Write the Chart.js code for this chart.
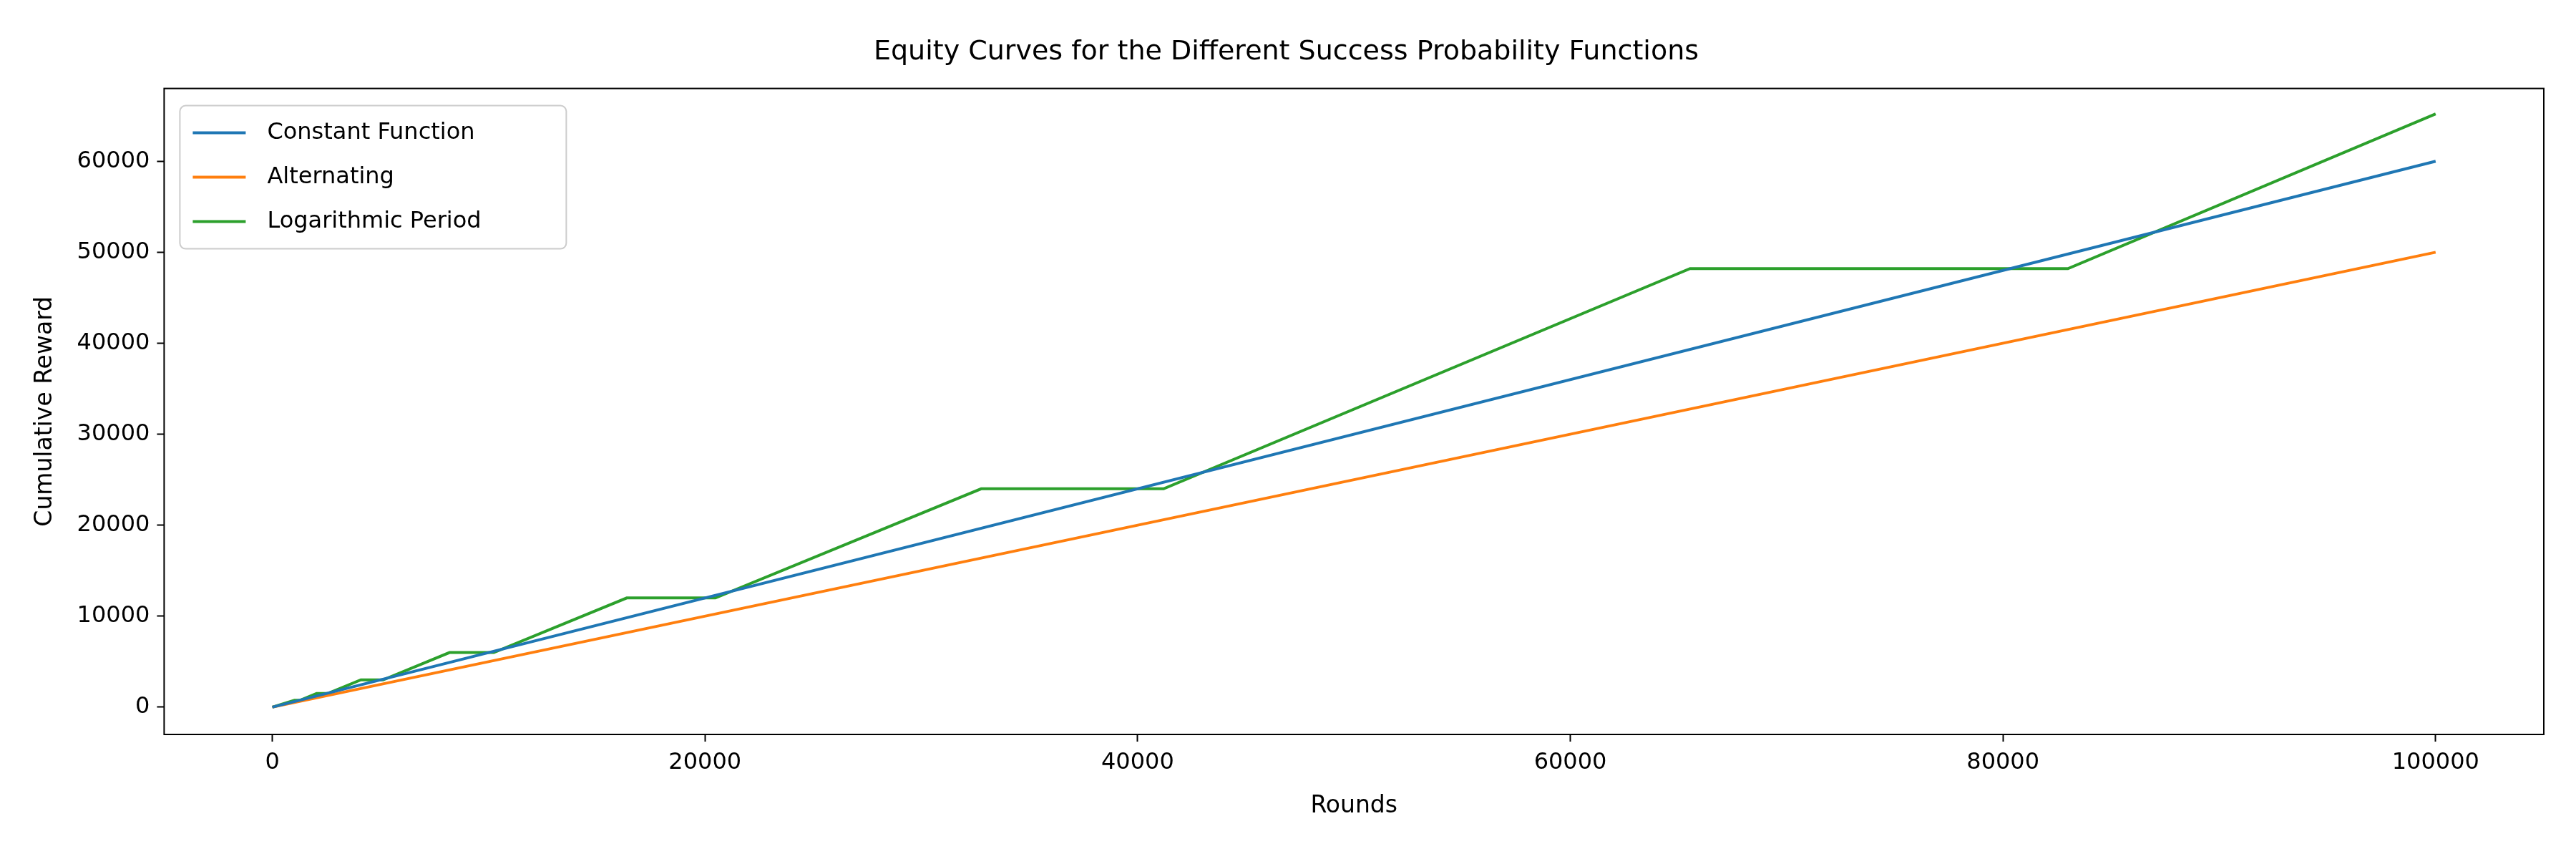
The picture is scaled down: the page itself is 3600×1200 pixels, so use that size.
<!DOCTYPE html>
<html><head><script src="https://cdn.jsdelivr.net/npm/chart.js@4"></script>
<style>body{margin:0;background:#fff}</style></head>
<body><canvas id="c" width="3600" height="1200"></canvas>
<script>
const constX=[0,100000], constY=[0,60000];
const altX=[0,100000], altY=[0,50000];
const logX=[0,1024,1280,2048,2560,4096,5120,8192,10240,16384,20480,32768,41200,65536,83000,100000];
const logY=[0,750,750,1500,1500,3000,3000,6000,6000,12000,12000,24000,24000,48200,48200,65200];
const xTicks=[0,20000,40000,60000,80000,100000];
const yTicks=[0,10000,20000,30000,40000,50000,60000];
const series=[["Constant Function",constX,constY,"#1f77b4"],["Alternating",altX,altY,"#ff7f0e"],["Logarithmic Period",logX,logY,"#2ca02c"]];
const F="'DejaVu Sans'";
const frame={id:'frame',afterDraw(ch){const a=ch.chartArea,c=ch.ctx;c.save();c.strokeStyle='#000';c.lineWidth=2;c.strokeRect(a.left,a.top,a.right-a.left,a.bottom-a.top);
 const x0=a.left+22,y0=a.top+24,w=540,h=200;c.fillStyle='rgba(255,255,255,0.8)';c.strokeStyle='#ccc';c.lineWidth=2;c.beginPath();c.roundRect(x0,y0,w,h,8);c.fill();c.stroke();
 c.font="32px "+F;c.textBaseline='middle';series.forEach((s,i)=>{const y=y0+38+i*62;c.strokeStyle=s[3];c.lineWidth=4;c.beginPath();c.moveTo(x0+18,y);c.lineTo(x0+92,y);c.stroke();c.fillStyle='#000';c.fillText(s[0],x0+122,y);});c.restore();}};
const tk=v=>({afterBuildTicks(ax){ax.ticks=v.map(t=>({value:t}));}});
const tf={color:'#000',font:{family:F,size:32},callback:v=>String(v)};
new Chart(document.getElementById('c'),{type:'line',
data:{datasets:series.map(s=>({label:s[0],data:s[1].map((x,i)=>({x,y:s[2][i]})),borderColor:s[3],borderWidth:4,pointRadius:0,tension:0}))},
options:{responsive:false,animation:false,devicePixelRatio:1,
layout:{padding:{left:40,right:45,top:10,bottom:50}},
plugins:{legend:{display:false},title:{display:true,text:'Equity Curves for the Different Success Probability Functions',font:{family:F,size:38,weight:'normal'},color:'#000',padding:{top:40,bottom:28}}},
scales:{x:{type:'linear',min:-5000,max:105000,...tk(xTicks),grid:{drawOnChartArea:false,tickLength:10,color:'#000',tickWidth:2},border:{display:false},ticks:{...tf,maxRotation:0,padding:10},title:{display:true,text:'Rounds',color:'#000',font:{family:F,size:33},padding:{top:12}}},
y:{min:-3000,max:68000,...tk(yTicks),grid:{drawOnChartArea:false,tickLength:10,color:'#000',tickWidth:2},border:{display:false},ticks:{...tf,padding:10},title:{display:true,text:'Cumulative Reward',color:'#000',font:{family:F,size:33},padding:{bottom:14}}}}},
plugins:[frame]});
</script></body></html>
